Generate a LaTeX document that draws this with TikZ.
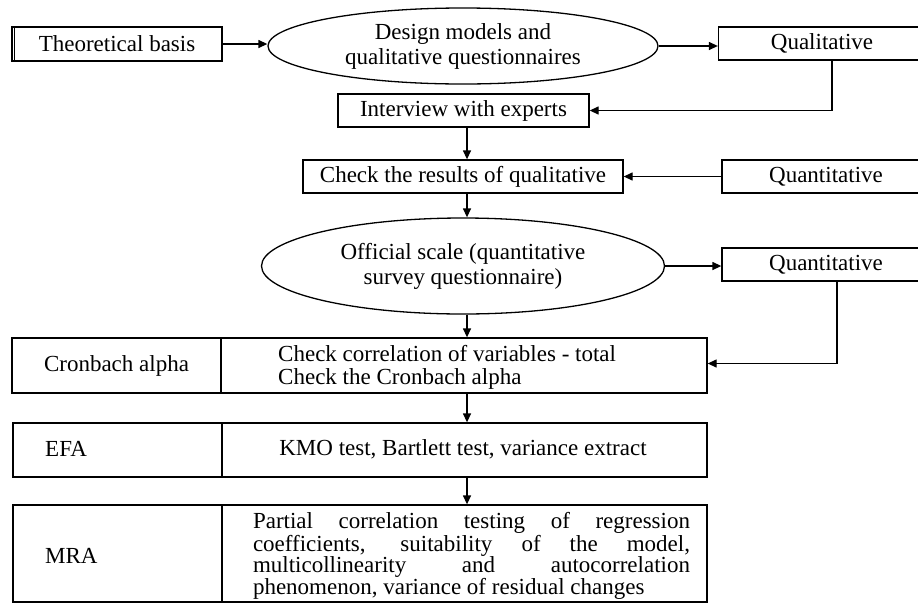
\documentclass[tikz,border=0pt]{standalone}
\usepackage{fontspec}
\setmainfont{Liberation Serif}
\usetikzlibrary{shapes.geometric,arrows.meta,calc}
\begin{document}
\begin{tikzpicture}[x=1pt,y=-1pt,
  every node/.style={font=\fontsize{23}{25}\selectfont, inner sep=0pt},
  box/.style={draw, line width=1.3pt, rectangle},
  oval/.style={draw, line width=1.3pt, ellipse, align=center},
  conn/.style={line width=1.3pt, -{Triangle[length=9pt,width=8pt]}},
  plain/.style={line width=1pt}]
\useasboundingbox (0,0) rectangle (918,603);
\clip (0,0) rectangle (918,603);
\coordinate (ax) at (467,0);
% top row
\node[box, minimum width=210, minimum height=34] (tb) at (117,44) {Theoretical basis};
\coordinate (dbl1) at (14.2,27);
\coordinate (dbl2) at (14.2,61);
\draw[plain] (dbl1) -- (dbl2);
\node[oval, minimum width=390, minimum height=76] (e1) at (463,46) {Design models and\\qualitative questionnaires};
\node[box, minimum width=207, minimum height=33] (qual) at (822,43.5) {Qualitative};
\node[box, minimum width=251, minimum height=33] (intv) at (463.5,110.5) {Interview with experts};
\node[box, minimum width=320, minimum height=33] (chk) at (463,176.5) {Check the results of qualitative};
\node[box, minimum width=208, minimum height=33] (qn1) at (826,176.5) {Quantitative};
\node[oval, minimum width=403, minimum height=96] (e2) at (463,266) {Official scale (quantitative\\survey questionnaire)};
\node[box, minimum width=208, minimum height=33] (qn2) at (826,264.5) {Quantitative};
% Cronbach row
\node[box, minimum width=209, minimum height=55] (cronL) at (116.5,365.5) {Cronbach alpha};
\node[box, minimum width=486, minimum height=55] (cronR) at (464,365.5) {};
\node[anchor=west, align=left, font=\fontsize{23}{23}\selectfont] (cronT) at (278,367.5) {Check correlation of variables - total\\Check the Cronbach alpha};
% EFA row
\node[box, minimum width=209, minimum height=54] (efaL) at (117.5,450) {};
\node[anchor=west] (efaT) at (45,449) {EFA};
\node[box, minimum width=485, minimum height=54] (efaR) at (464.5,450) {};
\node (efaX) at (463,449) {KMO test, Bartlett test, variance extract};
% MRA row
\node[box, minimum width=209, minimum height=97] (mraL) at (117.5,553.5) {};
\node[anchor=west] (mraT) at (45,556) {MRA};
\node[box, minimum width=485, minimum height=97] (mraR) at (464.5,553.5) {};
\node[text width=437, align=justify, font=\fontsize{23}{21}\selectfont] (mraX) at (471.5,556) {Partial correlation testing of regression\linebreak coefficients, suitability of the model,\linebreak multicollinearity and autocorrelation\linebreak phenomenon, variance of residual changes};
% connectors
\draw[conn] (tb.east) -- (tb.east -| e1.west);
\draw[conn] (e1.east) -- (e1.east -| qual.west);
\draw[conn] ([xshift=10]qual.south) |- (intv.east);
\draw[conn] (intv.south -| ax) -- (chk.north -| ax);
\draw[conn] (qn1.west) -- (chk.east);
\draw[conn] (chk.south -| ax) -- (e2.north -| ax);
\draw[conn] (e2.east) -- (e2.east -| qn2.west);
\draw[conn] (e2.south -| ax) -- (cronR.north -| ax);
\draw[conn] ([xshift=11]qn2.south) |- ([yshift=2]cronR.east);
\draw[conn] (cronR.south -| ax) -- (efaR.north -| ax);
\draw[conn] (efaR.south -| ax) -- (mraR.north -| ax);
\end{tikzpicture}
\end{document}
